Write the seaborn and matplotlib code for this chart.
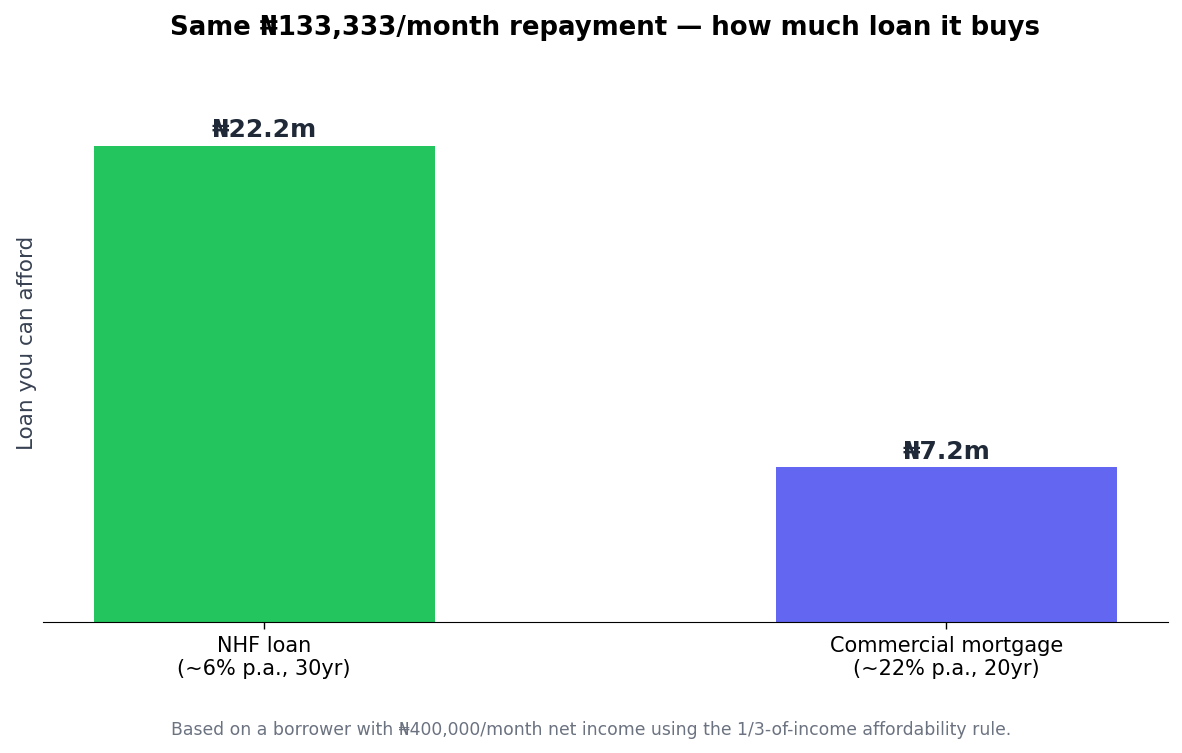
import matplotlib
matplotlib.use("Agg")
import matplotlib.pyplot as plt
import seaborn as sns
import pandas as pd

categories = ["NHF loan\n(~6% p.a., 30yr)", "Commercial mortgage\n(~22% p.a., 20yr)"]
values = [22.2, 7.2]
labels = ["₦22.2m", "₦7.2m"]
colors = ["#22c55e", "#6366f1"]

sns.set_style("white")
plt.rcParams['font.family'] = ['DejaVu Sans']

df = pd.DataFrame({"cat": categories, "val": values})
fig, ax = plt.subplots(figsize=(11.82, 7.53), dpi=100)
sns.barplot(data=df, x="cat", y="val", hue="cat", palette=colors, width=0.5,
            legend=False, ax=ax, saturation=1, edgecolor="none")
ax.set_xlim(-0.325, 1.325)
ax.set_ylim(0, 26.0)
for i, (v, l) in enumerate(zip(values, labels)):
    ax.text(i, v + 0.15, l, ha="center", va="bottom", fontsize=18, fontweight="bold", color="#1f2937")
ax.set_yticks([])
ax.set_xlabel("")
ax.set_ylabel("Loan you can afford", fontsize=15.5, color="#374151")
ax.tick_params(axis="x", labelsize=15, length=5, width=1, bottom=True, colors="black", pad=5)
for s in ["top", "right", "left"]:
    ax.spines[s].set_visible(False)
ax.spines["bottom"].set_color("black")
ax.set_title("Same ₦133,333/month repayment — how much loan it buys", fontsize=18.7,
             fontweight="bold", pad=21, color="black")
fig.text(0.5, 0.018, "Based on a borrower with ₦400,000/month net income using the 1/3-of-income affordability rule.",
         ha="center", va="bottom", fontsize=12.4, color="#6b7280")
fig.subplots_adjust(left=0.036, right=0.988, bottom=0.174, top=0.915)
fig.savefig("out.png", dpi=100)
